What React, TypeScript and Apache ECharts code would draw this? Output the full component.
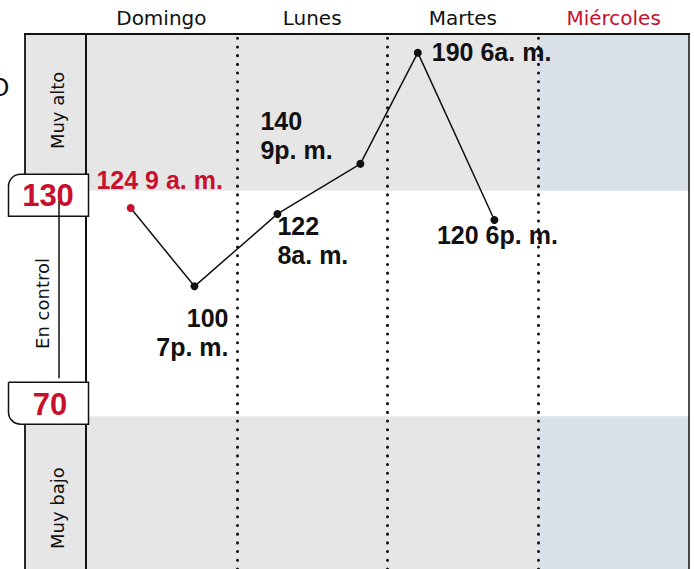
import React, { useEffect, useRef } from 'react';
import * as echarts from 'echarts';

// ---- data ----
const days = ['Domingo', 'Lunes', 'Martes', 'Miércoles'];
const currentDayIndex = 3;
const readingHours = [9, 19, 32, 45, 54, 66]; // hours counted from Sunday 00:00
const readingValues = [124, 100, 122, 140, 190, 120];
const readingTimes = ['9 a. m.', '7p. m.', '8a. m.', '9p. m.', '6a. m.', '6p. m.'];
const labelSeparators = [' ', '\n', '\n', '\n', ' ', ' '];
const zoneNames = ['Muy alto', 'En control', 'Muy bajo'];
const zoneLimits = [130, 70];
const yRange = [46, 200];
const hourRange = [2, 96.5];

const RED = '#c8102e';
const INK = '#111111';
const GRAY = '#e6e6e6';
const BLUE = '#d9e0e7';
const NUM_FONT = '"Liberation Sans", Arial, sans-serif';
const UI_FONT = '"DejaVu Sans", Inter, sans-serif';

const labelLayouts: any[] = [
  { align: 'center', verticalAlign: 'middle', offset: [29, -28] },
  { align: 'right', verticalAlign: 'top', offset: [34, 17] },
  { align: 'left', verticalAlign: 'top', offset: [0, -2] },
  { align: 'left', verticalAlign: 'bottom', offset: [-100, 1] },
  { align: 'left', verticalAlign: 'middle', offset: [14, -1] },
  { align: 'center', verticalAlign: 'middle', offset: [3, 15] },
];

export default function App() {
  const ref = useRef<HTMLDivElement>(null);
  useEffect(() => {
    document.body.style.margin = '0';
    const chart = echarts.init(ref.current!, null, { renderer: 'svg' });
    const nDays = days.length;
    chart.setOption({
      animation: false,
      grid: { left: 86, right: 5, top: 34, bottom: 0 },
      xAxis: [
        {
          type: 'category',
          position: 'top',
          data: days.map((d, i) => ({
            value: d,
            textStyle: { color: i === currentDayIndex ? RED : INK },
          })),
          boundaryGap: true,
          axisLine: { show: false },
          axisTick: { show: false },
          splitLine: { show: false },
          axisLabel: { fontSize: 20, fontFamily: UI_FONT, margin: 6 },
        },
        { type: 'value', min: hourRange[0], max: hourRange[1], show: false },
        { type: 'value', min: 0, max: nDays, show: false },
      ],
      yAxis: { type: 'log', logBase: 10, min: yRange[0], max: yRange[1], show: false },
      series: [
        {
          type: 'line',
          xAxisIndex: 2,
          data: [],
          silent: true,
          z: 1,
          markArea: {
            silent: true,
            data: [
              [{ xAxis: 0, yAxis: zoneLimits[0], itemStyle: { color: GRAY } }, { xAxis: currentDayIndex, yAxis: yRange[1] }],
              [{ xAxis: currentDayIndex, yAxis: zoneLimits[0], itemStyle: { color: BLUE } }, { xAxis: nDays, yAxis: yRange[1] }],
              [{ xAxis: 0, yAxis: yRange[0], itemStyle: { color: GRAY } }, { xAxis: currentDayIndex, yAxis: zoneLimits[1] }],
              [{ xAxis: currentDayIndex, yAxis: yRange[0], itemStyle: { color: BLUE } }, { xAxis: nDays, yAxis: zoneLimits[1] }],
            ],
          },
        },
        {
          type: 'line',
          xAxisIndex: 2,
          data: [],
          silent: true,
          z: 3,
          markLine: {
            silent: true,
            symbol: ['none', 'none'],
            label: { show: false },
            lineStyle: { color: INK, width: 3, type: [0.1, 8.6], cap: 'round' },
            data: days.slice(1).map((_, i) => ({ xAxis: i + 1 })),
          },
        },
        {
          type: 'line',
          xAxisIndex: 1,
          z: 5,
          silent: true,
          symbol: 'circle',
          symbolSize: 8,
          lineStyle: { color: INK, width: 1.5 },
          itemStyle: { color: INK },
          label: {
            show: true,
            position: 'inside',
            fontFamily: NUM_FONT,
            fontWeight: 'bold',
            fontSize: 25,
            lineHeight: 29,
            formatter: (p: any) => `${readingValues[p.dataIndex]}${labelSeparators[p.dataIndex]}${readingTimes[p.dataIndex]}`,
          },
          data: readingHours.map((h, i) => ({
            value: [h, readingValues[i]],
            itemStyle: { color: i === 0 ? RED : INK },
            label: { ...labelLayouts[i], color: i === 0 ? RED : INK },
          })),
        },
      ],
    });

    const yHigh = chart.convertToPixel({ yAxisIndex: 0 } as any, zoneLimits[0]) as number;
    const yLow = chart.convertToPixel({ yAxisIndex: 0 } as any, zoneLimits[1]) as number;
    const top = 34, bottom = 569, colL = 25, colR = 86, right = 689;
    const hiBoxTop = yHigh - 16.5, boxH = 42;
    const loBoxTop = yLow - 34;
    const line = (x1: number, y1: number, x2: number, y2: number, w: number) => ({
      type: 'line', z: 20, shape: { x1, y1, x2, y2 }, style: { stroke: INK, lineWidth: w },
    });
    const sideFont = `18px ${UI_FONT}`;
    chart.setOption({
      graphic: [
        { type: 'rect', z: 10, shape: { x: colL, y: top, width: colR - colL, height: yHigh - top }, style: { fill: GRAY } },
        { type: 'rect', z: 10, shape: { x: colL, y: yLow, width: colR - colL, height: bottom - yLow }, style: { fill: GRAY } },
        line(colL - 1, top, right + 1, top, 2),
        line(right, top, right, bottom, 1.5),
        line(colR, top, colR, bottom, 2),
        line(colL, top, colL, hiBoxTop, 1.8),
        line(colL, loBoxTop + boxH, colL, bottom, 1.8),
        {
          type: 'rect', z: 21, shape: { x: 8.5, y: hiBoxTop, width: 80, height: boxH, r: [12, 0, 0, 0] },
          style: { fill: '#ffffff', stroke: INK, lineWidth: 1.5 },
        },
        {
          type: 'rect', z: 21, shape: { x: 8.5, y: loBoxTop, width: 80, height: boxH, r: [0, 0, 0, 12] },
          style: { fill: '#ffffff', stroke: INK, lineWidth: 1.5 },
        },
        { type: 'line', z: 22, shape: { x1: 59, y1: yHigh + 10, x2: 59, y2: yLow - 38 }, style: { stroke: INK, lineWidth: 1.5 } },
        {
          type: 'text', z: 23, x: 48, y: yHigh + 5,
          style: { text: String(zoneLimits[0]), fill: RED, font: `bold 31px ${NUM_FONT}`, align: 'center', verticalAlign: 'middle' },
        },
        {
          type: 'text', z: 23, x: 50, y: yLow - 12,
          style: { text: String(zoneLimits[1]), fill: RED, font: `bold 31px ${NUM_FONT}`, align: 'center', verticalAlign: 'middle' },
        },
        {
          type: 'text', z: 23, x: 57, y: (top + yHigh) / 2 - 2, rotation: Math.PI / 2,
          style: { text: zoneNames[0], fill: INK, font: sideFont, align: 'center', verticalAlign: 'middle' },
        },
        {
          type: 'text', z: 23, x: 42, y: (yHigh + yLow) / 2, rotation: Math.PI / 2,
          style: { text: zoneNames[1], fill: INK, font: sideFont, align: 'center', verticalAlign: 'middle' },
        },
        {
          type: 'text', z: 23, x: 57, y: yLow + 92, rotation: Math.PI / 2,
          style: { text: zoneNames[2], fill: INK, font: sideFont, align: 'center', verticalAlign: 'middle' },
        },
        {
          type: 'text', z: 23, x: 0, y: 88,
          style: { text: 'O', fill: INK, font: `24px ${UI_FONT}`, align: 'center', verticalAlign: 'middle' },
        },
      ],
    });
    return () => chart.dispose();
  }, []);
  return <div ref={ref} style={{ width: 694, height: 569 }} />;
}
